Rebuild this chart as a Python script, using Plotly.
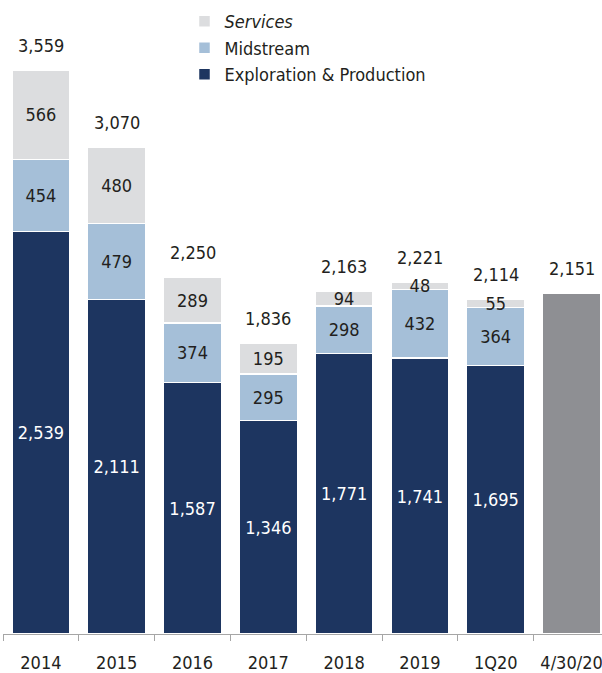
import plotly.graph_objects as go

# Capital by segment ($ millions)
categories = ["2014", "2015", "2016", "2017", "2018", "2019", "1Q20", "4/30/20"]
exploration = [2539, 2111, 1587, 1346, 1771, 1741, 1695, None]
midstream = [454, 479, 374, 295, 298, 432, 364, None]
services = [566, 480, 289, 195, 94, 48, 55, None]
latest_total = [None, None, None, None, None, None, None, 2151]
totals = [3559, 3070, 2250, 1836, 2163, 2221, 2114, 2151]

FONT = "DejaVu Sans Condensed, Liberation Sans Narrow, sans-serif"
NAVY = "#1d3560"
LIGHT_BLUE = "#a5bfd8"
LIGHT_GRAY = "#dcdddf"
DARK_GRAY = "#8e8f93"
TEXT = "#231f20"

fig = go.Figure()


def add_segment(values, name, color, text_color, showlegend=True):
    fig.add_trace(go.Bar(
        x=categories, y=values, name=name,
        marker=dict(color=color, line=dict(color="white", width=1.5)),
        texttemplate="%{y:,}", textposition="inside", textangle=0,
        insidetextanchor="middle", constraintext="none",
        textfont=dict(family=FONT, size=18, color=text_color),
        showlegend=showlegend, hoverinfo="skip",
    ))


add_segment(exploration, "Exploration & Production", NAVY, "white")
add_segment(midstream, "Midstream", LIGHT_BLUE, TEXT)
add_segment(services, "<i>Services</i>", LIGHT_GRAY, TEXT)
fig.add_trace(go.Bar(
    x=categories, y=latest_total, name="Total",
    marker=dict(color=DARK_GRAY, line=dict(color="white", width=1.5)),
    showlegend=False, hoverinfo="skip",
))

# Total labels above each stack (x given as category index)
for i, tot in enumerate(totals):
    fig.add_annotation(
        x=i, y=tot, text=f"{tot:,}", showarrow=False,
        yanchor="bottom", yshift=12,
        font=dict(family=FONT, size=18, color=TEXT),
    )

fig.update_layout(
    width=602, height=673,
    margin=dict(l=3, r=0, t=0, b=39),
    barmode="stack", bargap=0.235,
    plot_bgcolor="white", paper_bgcolor="white",
    font=dict(family=FONT, color=TEXT),
    legend=dict(
        x=0.303, y=0.995, xanchor="left", yanchor="top",
        traceorder="reversed",
        font=dict(family=FONT, size=18, color=TEXT),
        bgcolor="rgba(0,0,0,0)", itemwidth=30,
    ),
    xaxis=dict(
        type="category", range=[-0.5, 7.402],
        tickson="boundaries", ticks="outside", ticklen=6,
        tickcolor="#a6a6a6", showline=True, linecolor="#a6a6a6",
        linewidth=1, showgrid=False, ticklabelstandoff=12,
        tickfont=dict(family=FONT, size=18, color=TEXT),
    ),
    yaxis=dict(range=[0, 4000], visible=False),
)

fig.write_html("out.html")
